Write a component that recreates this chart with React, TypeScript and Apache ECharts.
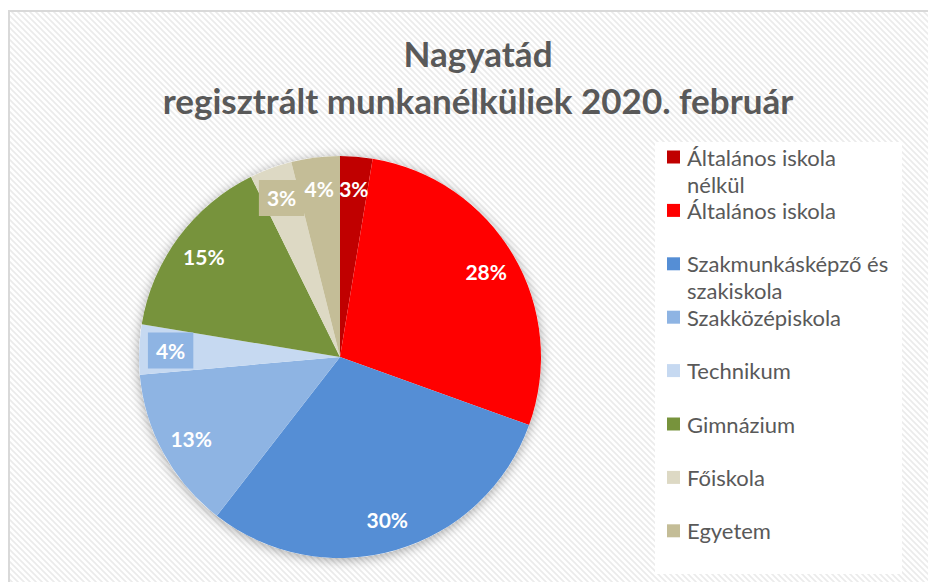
import React, { useEffect, useRef } from "react";
import * as echarts from "echarts";

const titleLines = ["Nagyatád", "regisztrált munkanélküliek 2020. február"];
const categories = [
  "Általános iskola nélkül",
  "Általános iskola",
  "Szakmunkásképző és szakiskola",
  "Szakközépiskola",
  "Technikum",
  "Gimnázium",
  "Főiskola",
  "Egyetem",
];
const legendLines = [
  ["Általános iskola", "nélkül"],
  ["Általános iskola"],
  ["Szakmunkásképző és", "szakiskola"],
  ["Szakközépiskola"],
  ["Technikum"],
  ["Gimnázium"],
  ["Főiskola"],
  ["Egyetem"],
];
const shares = [2.6, 27.9, 30.0, 13.1, 4.0, 15.1, 3.4, 3.9];
const colors = ["#C00000", "#FF0000", "#558ED5", "#8EB4E3", "#C6D9F1", "#77933C", "#DDD9C4", "#C4BD97"];
const labelBoxes: Record<number, string> = { 4: "#8EB4E3", 6: "#C4BD97" };

export default function App() {
  const ref = useRef<HTMLDivElement>(null);
  useEffect(() => {
    if (!ref.current) return;
    const chart = echarts.init(ref.current, null, { renderer: "svg" });

    const cv = document.createElement("canvas");
    cv.width = 6;
    cv.height = 6;
    const ctx = cv.getContext("2d");
    if (ctx) {
      ctx.fillStyle = "#FFFFFF";
      ctx.fillRect(0, 0, 6, 6);
      ctx.strokeStyle = "#EBEBEB";
      ctx.lineWidth = 1.6;
      for (const o of [-6, 0, 6]) {
        ctx.beginPath();
        ctx.moveTo(o - 1, -1);
        ctx.lineTo(o + 7, 7);
        ctx.stroke();
      }
    }

    const center = [340, 357];
    const R = 201;
    const legendTop0 = 157;
    const legendStep = 53.4;
    const lh = 27;

    const option: any = {
      animation: false,
      backgroundColor: "#FFFFFF",
      title: {
        text: titleLines.join("\n"),
        left: 478,
        top: 29,
        textAlign: "center",
        padding: 0,
        textStyle: {
          fontFamily: "Lato",
          fontWeight: "bold",
          fontSize: 35,
          lineHeight: 47,
          color: "#595959",
        },
      },
      graphic: [
        {
          type: "rect",
          z: -10,
          shape: { x: 9, y: 11, width: 940, height: 590 },
          style: { fill: { image: cv, repeat: "repeat" }, stroke: "#D9D9D9", lineWidth: 2 },
          silent: true,
        },
        {
          type: "rect",
          z: -5,
          shape: { x: 655, y: 142, width: 247, height: 432 },
          style: { fill: "#FFFFFF" },
          silent: true,
        },
      ],
      legend: categories.map((name, i) => {
        const lines = legendLines[i];
        const multi = lines.length > 1;
        const c = legendTop0 + i * legendStep;
        return {
          orient: "vertical",
          left: 667,
          top: c - (multi ? lh * 1.5 : lh / 2),
          padding: 0,
          itemWidth: 13,
          itemHeight: 13,
          icon: "rect",
          selectedMode: false,
          data: [{ name, itemStyle: { color: colors[i] } }],
          formatter: () => (multi ? " \n" : "") + lines.join("\n"),
          textStyle: {
            fontFamily: "Lato",
            fontSize: 22,
            color: "#595959",
            lineHeight: lh,
            padding: [0, 0, 0, 2],
          },
        };
      }),
      series: [
        {
          type: "pie",
          name: "bg",
          center,
          radius: R,
          silent: true,
          legendHoverLink: false,
          data: [{ name: "_bg", value: 1 }],
          itemStyle: { color: "#FFFFFF", shadowBlur: 12, shadowColor: "rgba(0,0,0,0.35)", shadowOffsetY: 2 },
          label: { show: false },
          labelLine: { show: false },
        },
        {
          type: "pie",
          name: "main",
          center,
          radius: R,
          startAngle: 90,
          clockwise: true,
          data: categories.map((n, i) => ({ name: n, value: shares[i], itemStyle: { color: colors[i] } })),
          itemStyle: { borderWidth: 0 },
          label: { show: false },
          labelLine: { show: false },
          emphasis: { disabled: true },
        },
        {
          type: "pie",
          name: "labels",
          center,
          radius: [132, R],
          startAngle: 90,
          clockwise: true,
          silent: true,
          legendHoverLink: false,
          avoidLabelOverlap: false,
          labelLayout: { hideOverlap: false },
          data: categories.map((n, i) => ({
            name: n,
            value: shares[i],
            itemStyle: { color: "rgba(0,0,0,0)" },
            label: labelBoxes[i]
              ? { backgroundColor: labelBoxes[i], padding: [8, 8, 7, 8] }
              : {},
          })),
          label: {
            show: true,
            position: "inside",
            formatter: (p: any) => Math.round(p.percent) + "%",
            color: "#FFFFFF",
            fontFamily: "Lato",
            fontWeight: "bold",
            fontSize: 21,
          },
          labelLine: { show: false },
          emphasis: { disabled: true },
        },
      ],
    };
    chart.setOption(option);
    return () => chart.dispose();
  }, []);
  return (
    <div
      ref={ref}
      style={{ position: "fixed", left: 0, top: 0, width: 928, height: 582 }}
    />
  );
}
